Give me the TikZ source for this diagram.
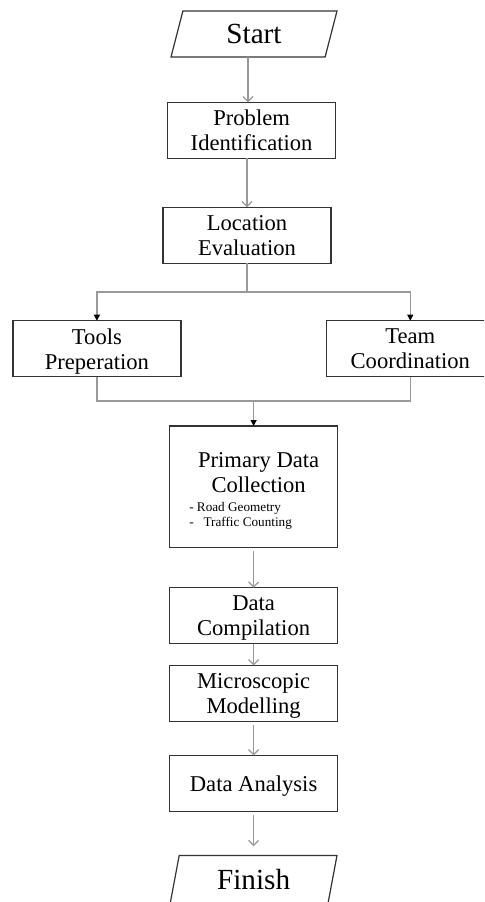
\documentclass[tikz,border=0pt]{standalone}
\usepackage{fontspec}
\setmainfont{Liberation Serif}
\usetikzlibrary{positioning,shapes.geometric,arrows.meta}
\begin{document}
\begin{tikzpicture}[
	box/.style={draw=black!80, line width=0.6pt, minimum width=84pt, minimum height=28pt, inner sep=1pt, outer sep=0pt, text depth=0pt, align=center, font=\fontsize{11.3}{12.5}\selectfont},
	io/.style={draw=black!80, line width=0.6pt, trapezium, trapezium stretches body, minimum height=24pt, outer sep=0pt, text depth=0pt, font=\fontsize{14.6}{16}\selectfont},
	line/.style={draw=black!40, line width=0.6pt},
	flow/.style={line, -{Straight Barb[length=2.5pt,width=5pt]}},
	tip/.style={line, -{Triangle[length=3pt,width=3pt,color=black]}}
	]
	 \useasboundingbox (0,0) rectangle (242pt,-451pt);
	 \clip (0,0) rectangle (242pt,-451pt);

	 \node[io, trapezium left angle=70, trapezium right angle=110, minimum width=83pt, minimum height=23pt] (start) at (127pt,-17pt) {Start};
	 \node[box] (prob) [below=22.65pt of start, xshift=-1.2pt] {Problem\\Identification};
	 \node[box] (loc) [below=24.5pt of prob, xshift=-2.3pt] {Location\\Evaluation};
	 \node[box] (tools) [below=28.7pt of loc, xshift=-75.05pt] {Tools\\Preperation};
	 \node[box] (team) [below=28.7pt of loc, xshift=81.65pt] {Team\\Coordination};
	 \node[box, minimum height=60.65pt, text depth=4.6pt] (collect) [below=24.65pt of tools, xshift=78.35pt] {\hspace*{5pt}Primary Data\\\hspace*{5pt}Collection\\[-3.4pt]{\fontsize{6.6}{7.5}\selectfont\begin{tabular}[t]{@{}l@{}}- Road Geometry\\-\ \ \ Traffic Counting\end{tabular}}\hspace*{13pt}};
	 \node[box] (comp) [below=20.2pt of collect] {Data\\Compilation};
	 \node[box] (micro) [below=10.85pt of comp] {Microscopic\\Modelling};
	 \node[box] (ana) [below=17pt of micro] {Data Analysis};
	 \node[io, trapezium left angle=75, trapezium right angle=105, minimum width=83.4pt] (fin) [below=22pt of ana] {Finish};

	 \coordinate[below=14.35pt of loc] (split);
	 \coordinate[below=12.15pt of tools] (merge);

	 \draw[flow] (start.bottom side) to (start.bottom side |- prob.north);
	 \draw[flow] (loc.north |- prob.south) to (loc.north);
	 \draw[line] (loc) to (split);
	 \draw[tip] (split) -| (tools);
	 \draw[tip] (split) -| (team);
	 \draw[line] (tools) -- (merge) -| (team);
	 \draw[tip] (merge -| collect) to (collect);
	 \draw[flow, shorten <=2pt] (collect) to (comp);
	 \draw[flow] (comp) to (micro);
	 \draw[flow, shorten <=2pt] (micro) to (ana);
	 \draw[flow, shorten <=2pt, shorten >=4.6pt] (ana) to (ana |- fin.top side);
\end{tikzpicture}
\end{document}
